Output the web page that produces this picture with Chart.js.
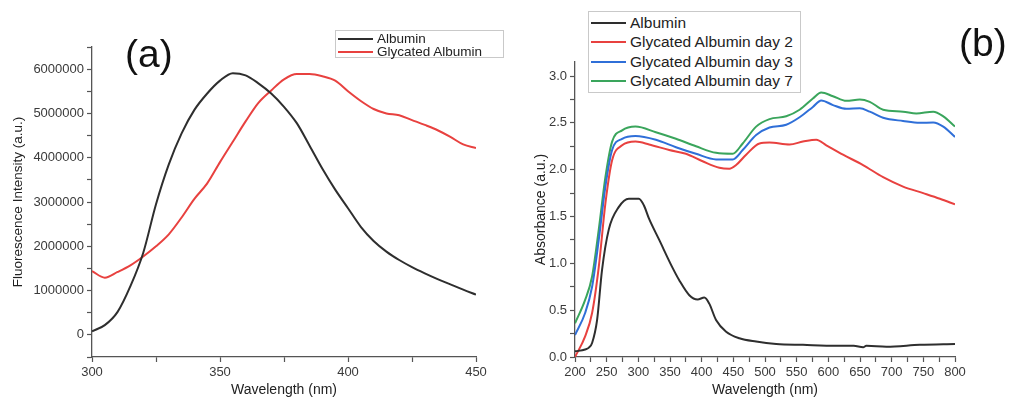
<!DOCTYPE html>
<html>
<head>
<meta charset="utf-8">
<script src="https://cdn.jsdelivr.net/npm/chart.js@4/dist/chart.umd.min.js"></script>
<style>
  body { margin: 0; background: #fff; font-family: "Liberation Sans", Arial, sans-serif; }
  #wrap { position: relative; width: 1010px; height: 407px; overflow: hidden; }
  canvas { position: absolute; top: 0; }
  #leftChart { left: 0; }
  #rightChart { left: 505px; }
  .panel { position: absolute; font-size: 39px; line-height: 1; color: #111; }
  .legend { position: absolute; border: 1px solid #c9c9c9; background: #fff; box-sizing: border-box; padding: 1px 0 0 2px; }
  .legend .row { display: flex; align-items: center; color: #222; white-space: nowrap; }
  .legend .swatch { display: inline-block; width: 35px; height: 2px; margin-right: 4px; }
</style>
</head>
<body>
<div id="wrap">
  <canvas id="leftChart" width="505" height="407"></canvas>
  <canvas id="rightChart" width="505" height="407"></canvas>
  <div class="panel" style="left:125px; top:34px;">(a)</div>
  <div class="panel" style="left:959px; top:23px;">(b)</div>
  <div class="legend" id="legendA" style="left:335px; top:30px; width:169px; height:28px; font-size:13.5px;"></div>
  <div class="legend" id="legendB" style="left:588px; top:11px; width:213px; height:82px; font-size:15.5px;"></div>
</div>
<script>
// (a) fluorescence spectra, read every 5 nm
const fluoNm = [300, 305, 310, 315, 320, 325, 330, 335, 340, 345, 350, 355, 360, 365, 370, 375, 380, 385, 390, 395, 400, 405, 410, 415, 420, 425, 430, 435, 440, 445, 450];
const fluoAlbuminVal = [80000, 220000, 520000, 1100000, 1850000, 2950000, 3850000, 4550000, 5080000, 5450000, 5740000, 5910000, 5860000, 5680000, 5450000, 5150000, 4780000, 4270000, 3750000, 3280000, 2860000, 2440000, 2120000, 1880000, 1690000, 1530000, 1390000, 1260000, 1140000, 1020000, 910000];
const fluoGlycatedVal = [1440000, 1290000, 1420000, 1570000, 1770000, 2000000, 2270000, 2650000, 3070000, 3420000, 3900000, 4360000, 4820000, 5240000, 5520000, 5770000, 5890000, 5890000, 5840000, 5740000, 5500000, 5280000, 5100000, 5000000, 4960000, 4850000, 4740000, 4620000, 4470000, 4300000, 4220000];

// (b) absorbance spectra
const absAlbuminNm = [200, 216, 222, 227, 234.8, 242.7, 253.3, 269, 285, 300.8, 308.7, 316.7, 333, 353.5, 364.6, 380.5, 393.6, 404.2, 412, 422.7, 438.6, 459.6, 486, 517.7, 560, 612.7, 640, 655, 660, 691.7, 744.6, 800];
const absAlbuminVal = [0.06, 0.08, 0.1, 0.15, 0.39, 0.93, 1.36, 1.6, 1.69, 1.69, 1.62, 1.48, 1.25, 0.96, 0.82, 0.66, 0.615, 0.635, 0.57, 0.395, 0.27, 0.2, 0.165, 0.14, 0.13, 0.12, 0.12, 0.105, 0.12, 0.11, 0.13, 0.14];

const absDay2Nm = [200, 216, 227, 237.5, 248, 258.6, 274.4, 295.5, 317, 348.8, 375.2, 401.5, 428, 443.8, 454.4, 470.2, 491.3, 507.1, 538.8, 559.8, 581, 596.8, 623.2, 654.8, 686.5, 718, 749.8, 776.2, 800];
const absDay2Val = [0.0, 0.22, 0.47, 0.96, 1.64, 2.1, 2.26, 2.3, 2.27, 2.21, 2.17, 2.09, 2.02, 2.01, 2.05, 2.16, 2.28, 2.29, 2.27, 2.3, 2.32, 2.26, 2.16, 2.05, 1.92, 1.82, 1.75, 1.69, 1.63];

const absDay3Nm = [200, 216, 227, 237.5, 248, 258.6, 274.4, 295.5, 327.7, 359.4, 391, 422.7, 449, 464.8, 486, 507.1, 533.5, 554.6, 575.6, 588.8, 607.3, 628.5, 649.6, 665.4, 686.5, 718, 744.6, 765.6, 781.5, 800];
const absDay3Val = [0.235, 0.47, 0.75, 1.25, 1.82, 2.21, 2.33, 2.36, 2.32, 2.24, 2.17, 2.11, 2.11, 2.21, 2.37, 2.45, 2.48, 2.56, 2.67, 2.74, 2.69, 2.65, 2.655, 2.62, 2.555, 2.52, 2.5, 2.505, 2.46, 2.35];

const absDay7Nm = [200, 216, 227, 237.5, 248, 258.6, 274.4, 295.5, 327.7, 359.4, 391, 422.7, 449, 464.8, 486, 507.1, 533.5, 554.6, 575.6, 588.8, 607.3, 628.5, 649.6, 665.4, 686.5, 718, 739, 765.6, 781.5, 800];
const absDay7Val = [0.36, 0.61, 0.86, 1.36, 1.92, 2.3, 2.42, 2.46, 2.4, 2.33, 2.25, 2.18, 2.17, 2.28, 2.46, 2.54, 2.57, 2.64, 2.76, 2.825, 2.785, 2.735, 2.75, 2.725, 2.64, 2.62, 2.6, 2.62, 2.57, 2.46];

const fluoSeriesNames = ['Albumin', 'Glycated Albumin'];
const absSeriesNames = ['Albumin', 'Glycated Albumin day 2', 'Glycated Albumin day 3', 'Glycated Albumin day 7'];

const BLACK = '#2e2e2e';
const RED = '#e8413f';
const BLUE = '#2f6fd8';
const GREEN = '#3aa55c';
const TEXT = '#3a3a3a';
const AXIS = '#555555';

const toPoints = (xs, ys) => xs.map((x, i) => ({ x: x, y: ys[i] }));

function lineSet(label, xs, ys, color) {
    return {
        label: label,
        data: toPoints(xs, ys),
        borderColor: color,
        backgroundColor: color,
        borderWidth: 2,
        pointRadius: 0,
        cubicInterpolationMode: 'monotone',
        fill: false
    };
}

// axis with outward ticks, label only every other tick (Origin-style minor ticks)
function axisOpts(opts) {
    return {
        type: 'linear',
        min: opts.min,
        max: opts.max,
        border: { display: true, color: AXIS, width: 1.3 },
        grid: { drawOnChartArea: false, drawTicks: true, tickLength: 5, color: AXIS,
                tickColor: AXIS, tickWidth: 1.2 },
        ticks: {
            autoSkip: false,
            maxRotation: 0,
            color: TEXT,
            font: { family: 'Liberation Sans, Arial, sans-serif', size: 13 },
            callback: opts.label
        },
        title: {
            display: true,
            text: opts.title,
            color: '#222',
            font: { family: 'Liberation Sans, Arial, sans-serif', size: opts.titleSize || 14 },
            padding: opts.titlePad
        },
        // fixed tick positions from min in steps, so the last label is never swallowed by max
        afterBuildTicks: (scale) => {
            const ticks = [];
            for (let v = opts.min; v <= opts.max + 1e-9; v += opts.step) {
                ticks.push({ value: +v.toFixed(6) });
            }
            scale.ticks = ticks;
        },
        afterFit: opts.fit
    };
}

function makeChart(id, datasets, padding, xOpts, yOpts) {
    return new Chart(document.getElementById(id), {
        type: 'line',
        data: { datasets: datasets },
        options: {
            responsive: false,
            animation: false,
            events: [],
            layout: { padding: padding },
            plugins: { legend: { display: false }, tooltip: { enabled: false } },
            scales: { x: axisOpts(xOpts), y: axisOpts(yOpts) }
        }
    });
}

makeChart('leftChart',
    [lineSet(fluoSeriesNames[0], fluoNm, fluoAlbuminVal, BLACK),
     lineSet(fluoSeriesNames[1], fluoNm, fluoGlycatedVal, RED)],
    { left: 0, top: 47, right: 29, bottom: 0 },
    { min: 300, max: 450, step: 25, title: 'Wavelength (nm)', titlePad: { top: 0, bottom: 8 },
      label: v => (v % 50 === 0 ? String(v) : ''), fit: s => { s.height = 50; } },
    { min: -500000, max: 6500000, step: 500000, title: 'Fluorescence Intensity (a.u.)', titleSize: 13.5,
      titlePad: { top: 10, bottom: 0 },
      label: v => (v >= 0 && v % 1000000 === 0 ? String(v) : ''), fit: s => { s.width = 92; } }
);

makeChart('rightChart',
    [lineSet(absSeriesNames[0], absAlbuminNm, absAlbuminVal, BLACK),
     lineSet(absSeriesNames[1], absDay2Nm, absDay2Val, RED),
     lineSet(absSeriesNames[2], absDay3Nm, absDay3Val, BLUE),
     lineSet(absSeriesNames[3], absDay7Nm, absDay7Val, GREEN)],
    { left: 0, top: 62, right: 55, bottom: 0 },
    { min: 200, max: 800, step: 25, title: 'Wavelength (nm)', titlePad: { top: 0, bottom: 8 },
      label: v => (v % 50 === 0 ? String(v) : ''), fit: s => { s.height = 50; } },
    { min: 0, max: 3.15, step: 0.25, title: 'Absorbance (a.u.)', titlePad: { top: 28, bottom: 0 },
      label: v => (Math.abs(v * 2 - Math.round(v * 2)) < 1e-6 ? v.toFixed(1) : ''), fit: s => { s.width = 70; } }
);

// legends in boxes inside the plots
function fillLegend(id, names, colors, rowHeight) {
    const box = document.getElementById(id);
    names.forEach((name, i) => {
        const row = document.createElement('div');
        row.className = 'row';
        row.style.height = rowHeight + 'px';
        row.innerHTML = `<span class="swatch" style="background:${colors[i]}"></span>${name}`;
        box.appendChild(row);
    });
}

fillLegend('legendA', fluoSeriesNames, [BLACK, RED], 13);
fillLegend('legendB', absSeriesNames, [BLACK, RED, BLUE, GREEN], 19.5);
</script>
</body>
</html>
